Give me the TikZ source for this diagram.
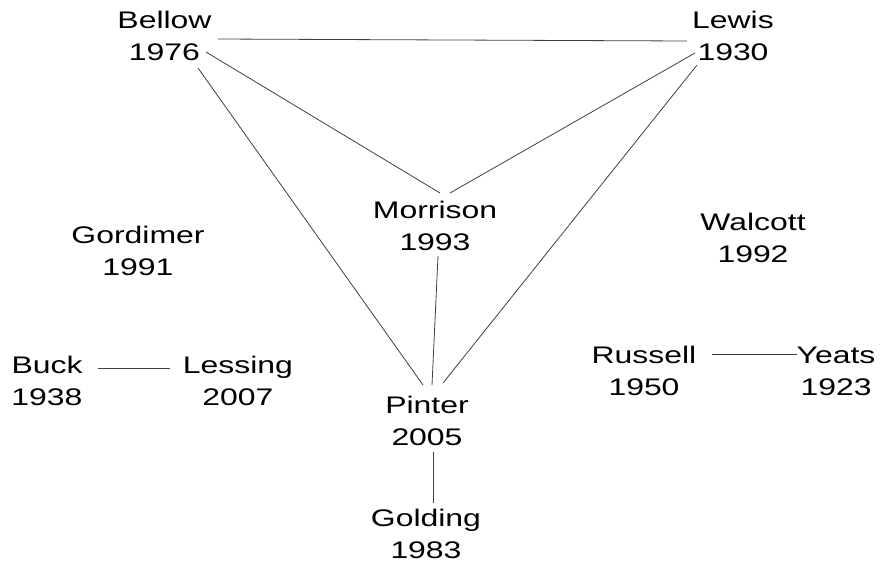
\documentclass[tikz,border=0pt]{standalone}
\usepackage{fontspec}
\setmainfont{Liberation Sans}[FakeStretch=1.33]
\begin{document}
\begin{tikzpicture}[x=1pt,y=1pt,
  author/.style={anchor=base,align=center,inner sep=0pt,
    font=\fontsize{24}{32}\selectfont},
  link/.style={draw=black!75,line width=0.8pt}]
\useasboundingbox (0,0) rectangle (885,-563);
% node base = baseline of the year line
\node[author] (bellow) at (164.5,-60) {Bellow\\1976};
\node[author] (lewis) at (733,-60) {Lewis\\1930};
\node[author] (morrison) at (435,-250) {Morrison\\1993};
\node[author] (gordimer) at (138,-275) {Gordimer\\1991};
\node[author] (walcott) at (753,-262) {Walcott\\1992};
\node[author] (buck) at (47,-405) {Buck\\1938};
\node[author] (lessing) at (238,-405) {Lessing\\2007};
\node[author] (russell) at (644,-395) {Russell\\1950};
\node[author] (yeats) at (836,-395) {Yeats\\1923};
\node[author] (pinter) at (427,-445) {Pinter\\2005};
\node[author] (golding) at (426,-558) {Golding\\1983};
\draw[link] ([shift={(53.5,21)}]bellow.base) -- ([shift={(-46,19)}]lewis.base);
\draw[link] ([shift={(41.5,8)}]bellow.base) -- ([shift={(5,57)}]morrison.base);
\draw[link] ([shift={(33.5,-8)}]bellow.base) -- ([shift={(-4,60)}]pinter.base);
\draw[link] ([shift={(-38,7)}]lewis.base) -- ([shift={(15,57)}]morrison.base);
\draw[link] ([shift={(-36,-5)}]lewis.base) -- ([shift={(16,62)}]pinter.base);
\draw[link] ([shift={(3,-6)}]morrison.base) -- ([shift={(5,60)}]pinter.base);
\draw[link] ([shift={(6,-7)}]pinter.base) -- ([shift={(7,55)}]golding.base);
\draw[link] ([shift={(51,37)}]buck.base) -- ([shift={(-68,37)}]lessing.base);
\draw[link] ([shift={(68,41)}]russell.base) -- ([shift={(-39,41)}]yeats.base);
\end{tikzpicture}
\end{document}
